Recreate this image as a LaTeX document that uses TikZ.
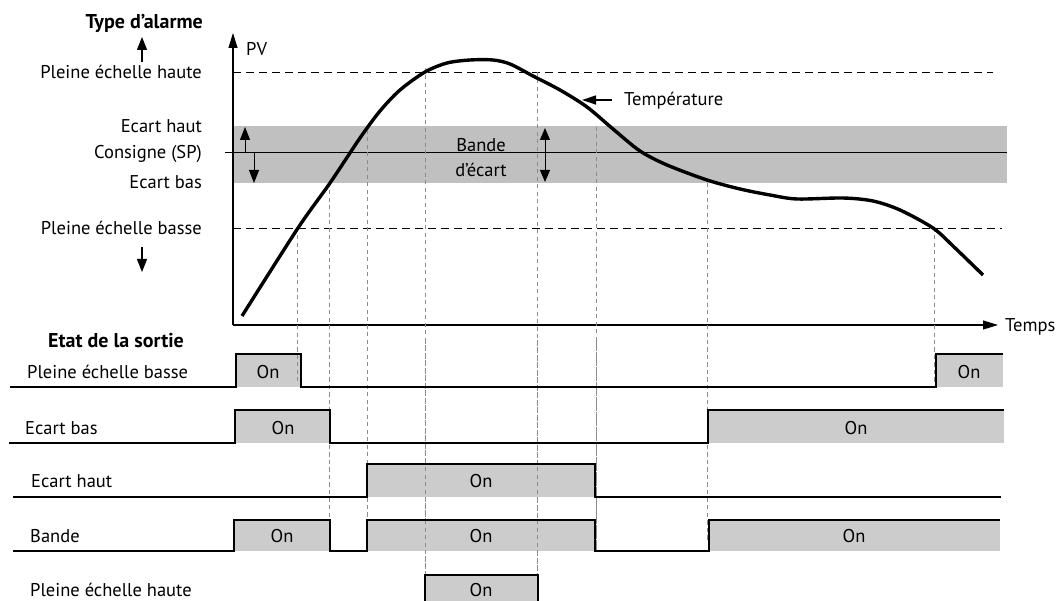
\documentclass[tikz,border=0pt]{standalone}
\usepackage{fontspec}
\setmainfont{PT Sans}
\usetikzlibrary{arrows.meta}
\definecolor{bandgrey}{RGB}{192,192,192}
\definecolor{boxgrey}{RGB}{204,204,204}
\definecolor{guidegrey}{RGB}{140,140,140}
\begin{document}
\begin{tikzpicture}[x=1pt,y=-1pt,
  txt/.style={inner sep=0pt,font=\fontsize{18.5}{20}\selectfont},
  ttl/.style={txt,font=\fontsize{20}{22}\selectfont\bfseries},
  guide/.style={guidegrey,line width=0.9pt,dash pattern=on 4pt off 3.5pt},
  limit/.style={black,line width=0.9pt,dash pattern=on 8pt off 5pt},
  wave/.style={black,line width=1.5pt,line join=miter},
  onbox/.style={fill=boxgrey},
  tip/.style={-{Triangle[length=15pt,width=9pt]}},
  smalltip/.style={-{Triangle[length=13pt,width=10pt]}},
  ltip/.style={-{Triangle[length=14pt,width=9pt]}}]
\useasboundingbox (0,0) rectangle (1058,601);

% band and reference lines
\fill[bandgrey] (233,126) rectangle (1007,183);
\draw[line width=1pt] (225,153) -- (1007,153);
\draw[limit] (233,72) -- (993,72);
\draw[limit] (233,228) -- (1002,228);

% axes
\coordinate (O) at (233,325);
\coordinate (Ytop) at (233,33);
\coordinate (Xend) at (998,325);
\draw[line width=1.1pt,tip] (O) -- (Ytop);
\draw[line width=1.1pt,tip] (O) -- (Xend);
\node[txt,anchor=west] (pv) at (246,49) {PV};
\node[txt,anchor=west] (temps) at (1005,327) {Temps};

% band arrows
\coordinate (sp1) at (245,153); \coordinate (eh1) at (245,127);
\coordinate (sp2) at (254,153); \coordinate (eb2) at (254,183);
\draw[line width=1pt,smalltip] (sp1) -- (eh1);
\draw[line width=1pt,smalltip] (sp2) -- (eb2);
\coordinate (ba) at (545,128); \coordinate (bb) at (545,182);
\draw[line width=1pt,{Triangle[length=12pt,width=10pt]}-{Triangle[length=12pt,width=10pt]}] (ba) -- (bb);
\node[txt] (bande1) at (481,145) {Bande};
\node[txt] (bande2) at (481,170) {d’écart};

% left labels
\node[ttl,anchor=east] (type) at (203,23) {Type d’alarme};
\node[txt,anchor=east] (pfh) at (202,72) {Pleine échelle haute};
\node[txt,anchor=east] (eh) at (202,126) {Ecart haut};
\node[txt,anchor=east] (sp) at (202,154) {Consigne (SP)};
\node[txt,anchor=east] (eb) at (202,182) {Ecart bas};
\node[txt,anchor=east] (pfb) at (202,228) {Pleine échelle basse};
\coordinate (ua0) at (142,62); \coordinate (ua1) at (142,37);
\coordinate (da0) at (142,247); \coordinate (da1) at (142,272);
\draw[line width=1.3pt,smalltip] (ua0) -- (ua1);
\draw[line width=1.3pt,smalltip] (da0) -- (da1);

% guide lines
\draw[guide] (297,228) -- (297,384);
\draw[guide] (329,183) -- (329,540);
\draw[guide] (367,130) -- (367,545);
\draw[guide] (425,68) -- (425,601);
\draw[guide] (537,72) -- (537,601);
\draw[guide] (596,127) -- (596,550);
\draw[guide] (707,183) -- (707,540);
\draw[guide] (934,228) -- (934,385);

% temperature curve
\draw[line width=3.4pt,line cap=butt] plot[smooth,tension=0.5] coordinates {
 (242,316) (298,228) (330,183) (360,138) (380,111) (400,90) (425,72)
 (447,63) (470,60) (493,60) (510,64) (533,76) (560,90) (587,107)
 (613,129) (640,151) (667,165) (707,180) (740,189) (770,195) (797,199)
 (843,198) (873,201) (900,210) (933,228) (953,246) (983,275)};
\coordinate (ta0) at (612,100); \coordinate (ta1) at (582,100);
\draw[line width=1.3pt,ltip] (ta0) -- (ta1);
\node[txt,anchor=west] (temp) at (624,101) {Température};

% output states
\node[ttl,anchor=east] (etat) at (184,341) {Etat de la sortie};

\fill[onbox] (236,354) rectangle (301,387);
\fill[onbox] (936,354) rectangle (1003,387);
\fill[onbox] (235,410) rectangle (330,443);
\fill[onbox] (708,410) rectangle (1004,443);
\fill[onbox] (367,464) rectangle (595,497);
\fill[onbox] (234,520) rectangle (330,551);
\fill[onbox] (367,520) rectangle (595,551);
\fill[onbox] (709,520) rectangle (1000,551);
\fill[onbox] (425,575) rectangle (538,601);

\draw[guide] (297,340) -- (297,384);
\draw[guide] (329,340) -- (329,540);
\draw[guide] (367,340) -- (367,545);
\draw[guide] (425,340) -- (425,601);
\draw[guide] (537,340) -- (537,601);
\draw[guide] (596,340) -- (596,550);
\draw[guide] (707,340) -- (707,540);
\draw[guide] (934,340) -- (934,385);

\draw[wave] (10,387) -- (236,387) -- (236,354) -- (301,354) -- (301,387) -- (936,387) -- (936,354) -- (1003,354);
\draw[wave] (9,443) -- (235,443) -- (235,410) -- (330,410) -- (330,443) -- (708,443) -- (708,410) -- (1004,410);
\draw[wave] (13,497) -- (367,497) -- (367,464) -- (595,464) -- (595,497) -- (1001,497);
\draw[wave] (13,551) -- (234,551) -- (234,520) -- (330,520) -- (330,551) -- (367,551) -- (367,520) -- (595,520) -- (595,551) -- (709,551) -- (709,520) -- (1000,520);
\draw[wave] (425,606) -- (425,575) -- (538,575) -- (538,606);

\node[txt,anchor=west] (l1) at (27,372) {Pleine échelle basse};
\node[txt,anchor=west] (l2) at (25,428) {Ecart bas};
\node[txt,anchor=west] (l3) at (31,481) {Ecart haut};
\node[txt,anchor=west] (l4) at (30,536) {Bande};
\node[txt,anchor=west] (l5) at (30,590) {Pleine échelle haute};

\node[txt] (on1) at (268,372) {On};
\node[txt] (on2) at (969,372) {On};
\node[txt] (on3) at (283,428) {On};
\node[txt] (on4) at (856,428) {On};
\node[txt] (on5) at (481,481) {On};
\node[txt] (on6) at (282,536) {On};
\node[txt] (on7) at (481,536) {On};
\node[txt] (on8) at (854,536) {On};
\node[txt] (on9) at (481,590) {On};
\end{tikzpicture}
\end{document}
